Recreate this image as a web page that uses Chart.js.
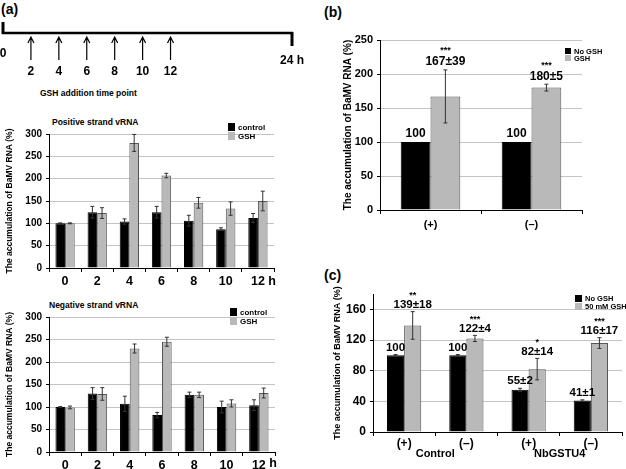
<!DOCTYPE html>
<html>
<head>
<meta charset="utf-8">
<script src="https://cdn.jsdelivr.net/npm/chart.js@4.4.1/dist/chart.umd.min.js"></script>
<style>
  body { margin: 0; background: #fff; width: 626px; height: 469px; overflow: hidden; position: relative;
         font-family: "Liberation Sans", Arial, sans-serif; font-weight: bold; color: #000; }
  .box { position: absolute; }
  .lbl { position: absolute; white-space: nowrap; line-height: 1; }
</style>
</head>
<body>
<div class="lbl" style="left:1px;top:2px;font-size:14px">(a)</div>
<div class="lbl" style="left:324px;top:5px;font-size:14px">(b)</div>
<div class="lbl" style="left:324px;top:268px;font-size:14px">(c)</div>
<div class="lbl" style="left:40px;top:89px;font-size:8.5px">GSH addition time point</div>
<div class="lbl" style="left:52px;top:118px;font-size:8.5px">Positive strand vRNA</div>
<div class="lbl" style="left:49px;top:301px;font-size:8.5px">Negative strand vRNA</div>

<div class="box" style="left:0;top:0;width:320px;height:110px"><canvas id="timeline"></canvas></div>
<div class="box" style="left:0;top:118px;width:300px;height:174px"><canvas id="posChart"></canvas></div>
<div class="box" style="left:0;top:298px;width:300px;height:171px"><canvas id="negChart"></canvas></div>
<div class="box" style="left:320px;top:0;width:306px;height:240px"><canvas id="bChart"></canvas></div>
<div class="box" style="left:320px;top:250px;width:306px;height:219px"><canvas id="cChart"></canvas></div>

<script>
// timeline of GSH additions (hours); the drawn axis is schematic, 24 h sits at the compressed end
const timePoints = [2, 4, 6, 8, 10, 12];
const timelineEnd = 24;
const timelineAxisMax = 20.7;

// (a) time course
const hourLabels = ["0", "2", "4", "6", "8", "10", "12"];
const posControl = [100, 125, 104, 125, 106, 87, 112];
const posControlErr = [1, 13, 6, 13, 12, 3, 10];
const posGSH = [100, 123, 280, 207, 146, 133, 150];
const posGSHErr = [1, 12, 19, 5, 12, 15, 22];
const negControl = [100, 130, 107, 82, 127, 100, 104];
const negControlErr = [1, 13, 17, 6, 6, 13, 12];
const negGSH = [99, 129, 230, 245, 127, 108, 131];
const negGSHErr = [3, 14, 10, 10, 6, 8, 11];

// (b) strands
const strandLabels = ["(+)", "(\u2013)"];
const bNoGSH = [100, 100];
const bNoGSHErr = [0, 0];
const bGSH = [167, 180];
const bGSHErr = [39, 5];
const bNoGSHText = ["100", "100"];
const bGSHText = ["167\u00b139", "180\u00b15"];
const bGSHStars = ["***", "***"];

// (c) control vs NbGSTU4
const cLabels = ["(+)", "(\u2013)", "(+)", "(\u2013)"];
const cGroups = ["Control", "NbGSTU4"];
const cNoGSH = [100, 100, 55, 41];
const cNoGSHErr = [1, 1, 2, 1];
const cGSH = [139, 122, 82, 116];
const cGSHErr = [18, 4, 14, 7];
const cNoGSHText = ["100", "100", "55\u00b12", "41\u00b11"];
const cGSHText = ["139\u00b118", "122\u00b14", "82\u00b114", "116\u00b117"];
const cGSHStars = ["**", "***", "*", "***"];

const FONT = '"Liberation Sans", Arial, sans-serif';
const BLACK = "#000000";
const GREY = "#b9b9b9";
const yTitle = "The accumulation of BaMV RNA (%)";

Chart.defaults.font.family = FONT;
Chart.defaults.font.weight = "bold";
Chart.defaults.color = "#000";
Chart.defaults.animation = false;

function font(size) { return "bold " + size + "px " + FONT; }

// error bars with caps
const errorBars = {
    id: "errorBars",
    afterDatasetsDraw(chart) {
        const ctx = chart.ctx, y = chart.scales.y;
        chart.data.datasets.forEach((ds, i) => {
            if (!ds.errors) return;
            chart.getDatasetMeta(i).data.forEach((bar, j) => {
                const e = ds.errors[j];
                if (!e) return;
                const top = y.getPixelForValue(ds.data[j] + e);
                const bot = y.getPixelForValue(ds.data[j] - e);
                ctx.save();
                ctx.strokeStyle = "#333";
                ctx.lineWidth = 1;
                ctx.beginPath();
                ctx.moveTo(bar.x, top); ctx.lineTo(bar.x, bot);
                ctx.moveTo(bar.x - 2, top); ctx.lineTo(bar.x + 2, top);
                ctx.moveTo(bar.x - 2, bot); ctx.lineTo(bar.x + 2, bot);
                ctx.stroke();
                ctx.restore();
            });
        });
    }
};

// value text and significance stars above each bar
const barText = {
    id: "barText",
    afterDatasetsDraw(chart, args, opts) {
        if (!opts.size) return;
        const ctx = chart.ctx, y = chart.scales.y;
        chart.data.datasets.forEach((ds, i) => {
            if (!ds.texts) return;
            chart.getDatasetMeta(i).data.forEach((bar, j) => {
                const top = y.getPixelForValue(ds.data[j] + (ds.errors ? ds.errors[j] : 0));
                const cy = top - opts.gap;
                ctx.save();
                ctx.textAlign = "center";
                ctx.textBaseline = "middle";
                ctx.fillStyle = "#000";
                ctx.font = font(opts.size);
                ctx.fillText(ds.texts[j], bar.x, cy);
                if (ds.stars) {
                    ctx.font = font(opts.starSize);
                    ctx.fillText(ds.stars[j], bar.x, cy - opts.starGap);
                }
                ctx.restore();
            });
        });
    }
};

// small stacked legend placed inside the panel
const boxLegend = {
    id: "boxLegend",
    afterDraw(chart, args, opts) {
        if (!opts.x) return;
        const ctx = chart.ctx;
        chart.data.datasets.forEach((ds, i) => {
            const top = opts.y + i * opts.h;
            ctx.save();
            ctx.fillStyle = ds.backgroundColor;
            ctx.fillRect(opts.x, top, opts.w, opts.h - 1);
            ctx.fillStyle = "#000";
            ctx.font = font(opts.size);
            ctx.textBaseline = "middle";
            ctx.fillText(ds.label, opts.x + opts.w + 3, top + opts.h / 2);
            ctx.restore();
        });
    }
};

// " h" after the last hour tick, and group names under pairs of bars
const axisExtras = {
    id: "axisExtras",
    afterDraw(chart, args, opts) {
        const ctx = chart.ctx, x = chart.scales.x;
        ctx.save();
        ctx.fillStyle = "#000";
        ctx.textBaseline = "middle";
        if (opts.suffix) {
            const last = x.getLabels().length - 1;
            ctx.font = font(opts.size);
            const w = ctx.measureText(x.getLabels()[last]).width;
            ctx.textAlign = "left";
            ctx.fillText(opts.suffix, x.getPixelForValue(last) + w / 2, chart.chartArea.bottom + opts.offset);
        }
        if (opts.groups) {
            ctx.font = font(opts.size);
            ctx.textAlign = "center";
            opts.groups.forEach((g, k) => {
                const cx = (x.getPixelForValue(2 * k) + x.getPixelForValue(2 * k + 1)) / 2;
                ctx.fillText(g, cx, chart.chartArea.bottom + opts.offset);
            });
        }
        ctx.restore();
    }
};

// timeline: axis line, end marks and arrows at GSH addition points
const timelineDraw = {
    id: "timelineDraw",
    afterDatasetsDraw(chart) {
        const ctx = chart.ctx, x = chart.scales.x;
        const x0 = x.getPixelForValue(0), x1 = x.getPixelForValue(timelineAxisMax);
        const lineY = 33;
        ctx.save();
        ctx.strokeStyle = "#000";
        ctx.fillStyle = "#000";
        ctx.lineWidth = 2.5;
        ctx.beginPath();
        ctx.moveTo(x0 - 1, lineY); ctx.lineTo(x1 + 1, lineY);
        ctx.stroke();
        ctx.lineWidth = 3;
        ctx.beginPath();
        ctx.moveTo(x0, lineY + 1); ctx.lineTo(x0, lineY - 11);
        ctx.moveTo(x1, lineY - 1); ctx.lineTo(x1, lineY + 13);
        ctx.stroke();
        ctx.font = font(12);
        ctx.textAlign = "center";
        ctx.textBaseline = "middle";
        ctx.fillText("0", x0, 54);
        ctx.fillText(timelineEnd + " h", x1, 61);
        chart.getDatasetMeta(0).data.forEach((pt, j) => {
            ctx.lineWidth = 1.2;
            ctx.beginPath();
            ctx.moveTo(pt.x, 60); ctx.lineTo(pt.x, 37);
            ctx.moveTo(pt.x - 3, 43); ctx.lineTo(pt.x, 37); ctx.lineTo(pt.x + 3, 43);
            ctx.stroke();
            ctx.fillText(String(timePoints[j]), pt.x, 72);
        });
        ctx.restore();
    }
};

new Chart(document.getElementById("timeline"), {
    type: "scatter",
    data: { datasets: [{ data: timePoints.map(t => ({ x: t, y: 0 })), pointRadius: 0 }] },
    options: {
        responsive: true, maintainAspectRatio: false,
        layout: { padding: { left: 3, right: 28, top: 10, bottom: 10 } },
        plugins: { legend: { display: false }, tooltip: { enabled: false } },
        scales: {
            x: { type: "linear", min: 0, max: timelineAxisMax, display: false },
            y: { display: false }
        }
    },
    plugins: [timelineDraw]
});

function barDataset(label, values, errors, color, border, texts, stars) {
    return {
        label: label, data: values, errors: errors, texts: texts, stars: stars,
        backgroundColor: color, borderColor: border, borderWidth: 1,
        barPercentage: 1
    };
}

function barOptions(cfg) {
    return {
        responsive: true, maintainAspectRatio: false,
        layout: { padding: { left: 0, right: cfg.right, top: cfg.top, bottom: 0 } },
        datasets: { bar: { categoryPercentage: cfg.cat } },
        plugins: {
            legend: { display: false },
            tooltip: { enabled: false },
            boxLegend: cfg.legend,
            barText: cfg.text || {},
            axisExtras: cfg.extras || {}
        },
        scales: {
            x: {
                afterFit: s => { s.height = cfg.xHeight; },
                grid: { offset: true, drawOnChartArea: false, tickLength: 4, color: "#000" },
                border: { color: "#000", width: 1 },
                ticks: { font: { size: cfg.xFont, weight: "bold" }, padding: cfg.xPad, color: "#000" }
            },
            y: {
                min: 0, max: cfg.max,
                afterFit: s => { s.width = cfg.yWidth; },
                grid: { color: "#c4c4c4", tickLength: 3, tickColor: "#000" },
                border: { color: "#000", width: 1 },
                ticks: {
                    stepSize: cfg.step, font: { size: cfg.yFont, weight: "bold" }, padding: 4, color: "#000",
                    callback: cfg.tickShow ? (v => (v % cfg.tickShow === 0 ? v : "")) : (v => v)
                },
                title: {
                    display: true, text: yTitle, color: "#000",
                    font: { size: cfg.titleFont, weight: "bold" },
                    padding: { top: cfg.titlePad, bottom: 0 }
                }
            }
        }
    };
}

new Chart(document.getElementById("posChart"), {
    type: "bar",
    data: {
        labels: hourLabels,
        datasets: [
            barDataset("control", posControl, posControlErr, BLACK, "#000"),
            barDataset("GSH", posGSH, posGSHErr, GREY, "#555")
        ]
    },
    options: barOptions({
        right: 26, top: 16, cat: 0.6, xHeight: 24, xFont: 12.5, xPad: 2, max: 300, step: 50,
        yWidth: 49, yFont: 10, titleFont: 8.5, titlePad: 5,
        legend: { x: 228, y: 5, w: 7, h: 9, size: 8 },
        extras: { suffix: " h", size: 12.5, offset: 14 }
    }),
    plugins: [errorBars, boxLegend, axisExtras]
});

new Chart(document.getElementById("negChart"), {
    type: "bar",
    data: {
        labels: hourLabels,
        datasets: [
            barDataset("control", negControl, negControlErr, BLACK, "#000"),
            barDataset("GSH", negGSH, negGSHErr, GREY, "#555")
        ]
    },
    options: barOptions({
        right: 25, top: 19, cat: 0.6, xHeight: 17, xFont: 12.5, xPad: 2, max: 300, step: 50,
        yWidth: 49, yFont: 10, titleFont: 8.5, titlePad: 5,
        legend: { x: 230, y: 10, w: 7, h: 9, size: 8 },
        extras: { suffix: " h", size: 12.5, offset: 12 }
    }),
    plugins: [errorBars, boxLegend, axisExtras]
});

new Chart(document.getElementById("bChart"), {
    type: "bar",
    data: {
        labels: strandLabels,
        datasets: [
            barDataset("No GSH", bNoGSH, bNoGSHErr, BLACK, "#000", bNoGSHText),
            barDataset("GSH", bGSH, bGSHErr, GREY, "#555", bGSHText, bGSHStars)
        ]
    },
    options: barOptions({
        right: 44, top: 40, cat: 0.59, xHeight: 30, xFont: 11, xPad: 4, max: 250, step: 50,
        yWidth: 60, yFont: 11, titleFont: 10, titlePad: 22,
        legend: { x: 245, y: 48, w: 6, h: 7, size: 7.5 },
        text: { size: 12, gap: 8, starSize: 9, starGap: 11 }
    }),
    plugins: [errorBars, barText, boxLegend]
});

new Chart(document.getElementById("cChart"), {
    type: "bar",
    data: {
        labels: cLabels,
        datasets: [
            barDataset("No GSH", cNoGSH, cNoGSHErr, BLACK, "#000", cNoGSHText),
            barDataset("50 mM GSH", cGSH, cGSHErr, GREY, "#555", cGSHText, cGSHStars)
        ]
    },
    options: barOptions({
        right: 4, top: 44, cat: 0.55, xHeight: 37, xFont: 12, xPad: 0, max: 180, step: 20, tickShow: 40,
        yWidth: 53, yFont: 12, titleFont: 9, titlePad: 12,
        legend: { x: 255, y: 45, w: 7, h: 8, size: 7.5 },
        text: { size: 11.5, gap: 7, starSize: 9, starGap: 9 },
        extras: { groups: cGroups, size: 11, offset: 22 }
    }),
    plugins: [errorBars, barText, boxLegend, axisExtras]
});
</script>
</body>
</html>
